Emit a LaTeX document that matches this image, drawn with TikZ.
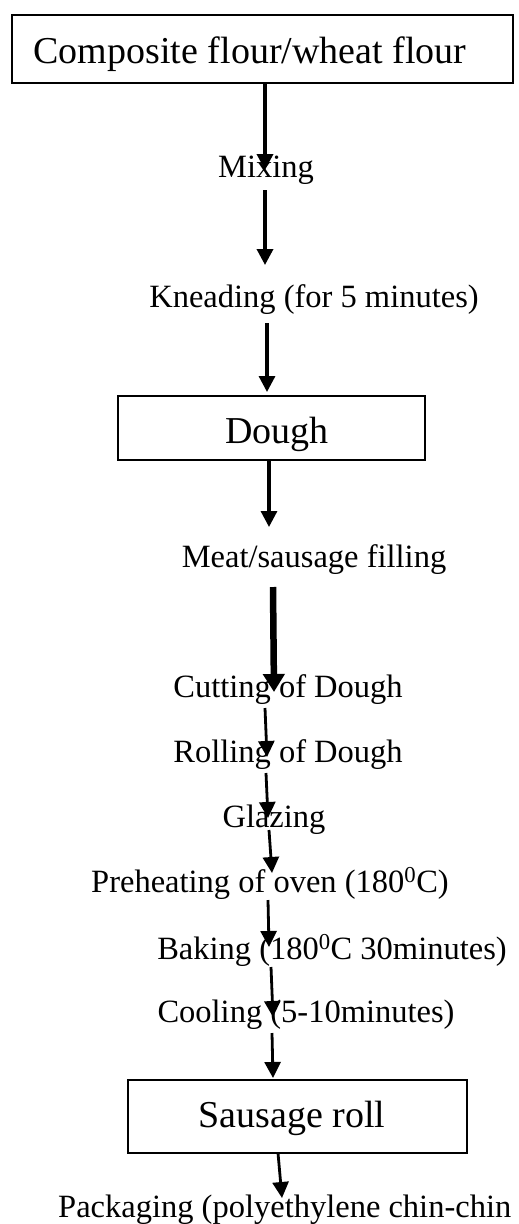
\documentclass[tikz,border=0pt]{standalone}
\usepackage{fontspec}
\setmainfont{Liberation Serif}
\usetikzlibrary{arrows.meta}
\begin{document}
\begin{tikzpicture}[x=1pt,y=-1pt,
  frame/.style={draw, line width=2pt, inner sep=0pt},
  boxtext/.style={anchor=base, inner sep=0pt, font=\fontsize{38}{40}\selectfont},
  steptext/.style={anchor=base, inner sep=0pt, font=\fontsize{32.5}{34}\selectfont},
  flow/.style={line width=2.8pt, -{Triangle[length=16pt,width=16pt]}},
  heavyflow/.style={line width=6.5pt, -{Triangle[length=18pt,width=21pt]}}]
\clip (0,0) rectangle (519,1224);
\useasboundingbox (0,0) rectangle (519,1224);

% boxes
\node (flourbox) [frame, minimum width=501pt, minimum height=68pt] at (262.5,49) {};
\node (doughbox) [frame, minimum width=307pt, minimum height=64pt] at (271.5,428) {};
\node (rollbox) [frame, minimum width=339pt, minimum height=73pt] at (297.5,1116.5) {};

% texts
\node (flour) [boxtext] at (250,63) {Composite flour/wheat flour};
\node (mix) [steptext] at (266,177) {Mixing};
\node (knead) [steptext] at (314,307) {Kneading (for 5 minutes)};
\node (dough) [boxtext] at (277,443) {Dough};
\node (fill) [steptext] at (314,567) {Meat/sausage filling};
\node (cut) [steptext] at (288,697) {Cutting of Dough};
\node (roll) [steptext] at (288,762) {Rolling of Dough};
\node (glaze) [steptext] at (274,827) {Glazing};
\node (preheat) [steptext] at (270,892) {Preheating of oven (180\textsuperscript{0}C)};
\node (bake) [steptext] at (332,959) {Baking (180\textsuperscript{0}C 30minutes)};
\node (cool) [steptext] at (306,1022) {Cooling (5-10minutes)};
\node (sroll) [boxtext] at (292,1127) {Sausage roll};
\node (pack) [steptext, anchor=base west] at (58,1217) {Packaging (polyethylene chin-chin};

% connector end points
\coordinate (a1s) at (265,83);   \coordinate (a1e) at (265,170);
\coordinate (a2s) at (265,190);  \coordinate (a2e) at (265,265);
\coordinate (a3s) at (267,323);  \coordinate (a3e) at (267,392);
\coordinate (a4s) at (269,460);  \coordinate (a4e) at (269,527);
\coordinate (a5s) at (273,587);  \coordinate (a5e) at (274,692);
\coordinate (a6s) at (265,708);  \coordinate (a6e) at (267,757);
\coordinate (a7s) at (266,773);  \coordinate (a7e) at (268,818);
\coordinate (a8s) at (269,830);  \coordinate (a8e) at (272,873);
\coordinate (a9s) at (268,900);  \coordinate (a9e) at (269,947);
\coordinate (a10s) at (271,967); \coordinate (a10e) at (273,1017);
\coordinate (a11s) at (272,1033);\coordinate (a11e) at (273,1078);
\coordinate (a12s) at (278,1153);\coordinate (a12e) at (282,1198);

% connectors
\draw[flow, line width=3.5pt] (a1s) -- (a1e);
\draw[flow, line width=3.5pt] (a2s) -- (a2e);
\draw[flow, line width=3.2pt] (a3s) -- (a3e);
\draw[flow, line width=3.2pt] (a4s) -- (a4e);
\draw[heavyflow] (a5s) -- (a5e);
\draw[flow] (a6s) -- (a6e);
\draw[flow] (a7s) -- (a7e);
\draw[flow] (a8s) -- (a8e);
\draw[flow] (a9s) -- (a9e);
\draw[flow] (a10s) -- (a10e);
\draw[flow] (a11s) -- (a11e);
\draw[flow] (a12s) -- (a12e);
\end{tikzpicture}
\end{document}
